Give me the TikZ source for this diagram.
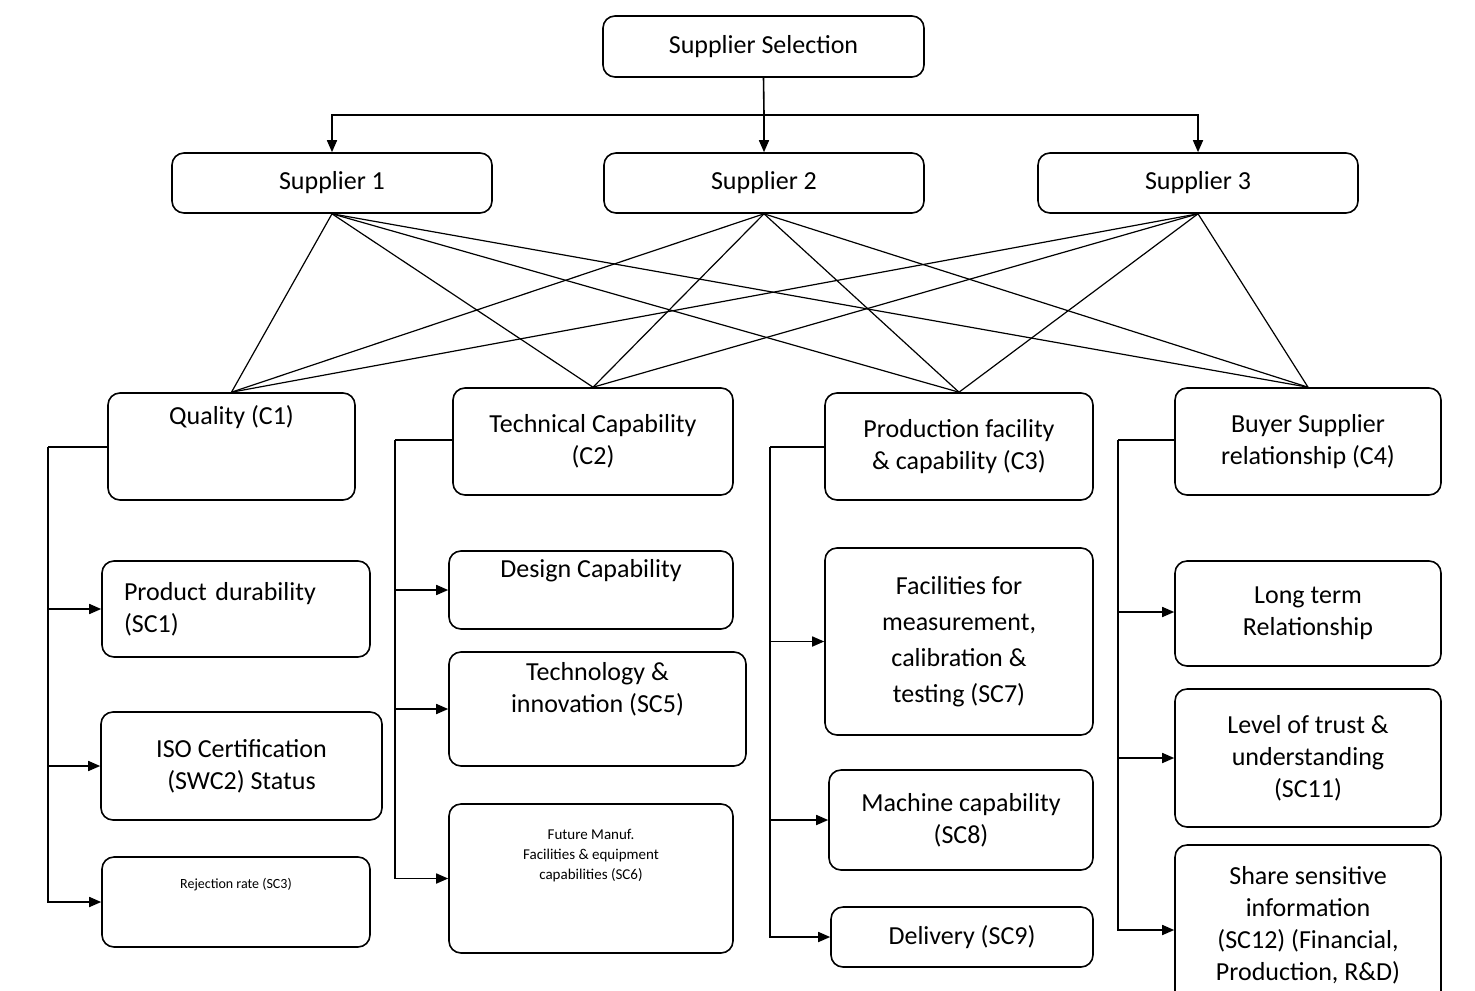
\documentclass[tikz,border=0pt]{standalone}
\usepackage{fontspec}
\setmainfont{Carlito}
\usetikzlibrary{arrows.meta}
\newcommand\bx[6][]{\node[box,#1,minimum width={(#4-#2)*0.5pt},minimum height={(#5-#3)*0.5pt}] (#6) at ({(#2+#4)/2},{(#3+#5)/2})}
\begin{document}
\begin{tikzpicture}[x=0.5pt,y=-0.5pt,
  box/.style={draw,thick,rounded corners=6pt,inner sep=0pt,align=center,font=\fontsize{13}{16}\selectfont},
  arr/.style={thick,-{Triangle[length=6pt,width=5pt]}},
  ln/.style={semithick}]
\useasboundingbox (0,0) rectangle (1475,990);
\bx{603}{16}{924}{77}{ss} {Supplier Selection};
\bx{172}{153}{492}{213}{s1} {Supplier 1};
\bx{604}{153}{924}{213}{s2} {Supplier 2};
\bx{1038}{153}{1358}{213}{s3} {Supplier 3};
\coordinate (bus) at (764,115);
\draw[thick] (ss.south) -- (bus);
\draw[arr] (bus) -| (s1.north);
\draw[arr] (bus) -- (s2.north);
\draw[arr] (bus) -| (s3.north);
\bx{108}{393}{355}{500}{c1} {Quality (C1)\\[16pt]};
\bx{453}{388}{733}{495}{c2} {Technical Capability\\(C2)};
\bx{825}{393}{1093}{500}{c3} {Production facility\\\& capability (C3)};
\bx{1175}{388}{1441}{495}{c4} {Buyer Supplier\\relationship (C4)};
\foreach \s in {s1,s2,s3}\foreach \c in {c1,c2,c3,c4}\draw[ln] (\s.south) -- (\c.north);
% C1
\bx[align=left,text width=112pt]{102}{561}{370}{657}{sc1} {Product durability\\(SC1)};
\bx{101}{712}{382}{820}{sc2} {ISO Certification\\(SWC2) Status};
\bx[font=\fontsize{7}{9}\selectfont]{102}{857}{370}{947}{sc3} {Rejection rate (SC3)\\[10pt]};
\coordinate (b1) at (48,447);
\draw[thick] (c1.west |- b1) -- (b1);
\foreach \n in {sc1,sc2,sc3}\draw[arr] (b1) |- (\n.west);
% C2
\bx{449}{551}{733}{629}{sc4} {Design Capability\\[6pt]};
\bx{449}{652}{746}{766}{sc5} {Technology \&\\innovation (SC5)\\[6pt]};
\bx[font=\fontsize{7.5}{10}\selectfont]{449}{804}{733}{953}{sc6} {Future Manuf.\\Facilities \& equipment\\capabilities (SC6)\\[14pt]};
\coordinate (b2) at (395,440);
\draw[thick] (c2.west |- b2) -- (b2);
\foreach \n in {sc4,sc5,sc6}\draw[arr] (b2) |- (\n.west);
% C3
\bx[font=\fontsize{13}{18}\selectfont]{825}{548}{1093}{735}{sc7} {Facilities for\\measurement,\\calibration \&\\testing (SC7)};
\bx{829}{770}{1093}{870}{sc8} {Machine capability\\(SC8)};
\bx{831}{907}{1093}{967}{sc9} {Delivery (SC9)};
\coordinate (b3) at (770,447);
\draw[thick] (c3.west |- b3) -- (b3);
\foreach \n in {sc7,sc8,sc9}\draw[arr] (b3) |- (\n.west);
% C4
\bx{1175}{561}{1441}{666}{sc10} {Long term\\Relationship};
\bx{1175}{689}{1441}{827}{sc11} {Level of trust \&\\understanding\\(SC11)};
\bx{1175}{845}{1441}{1005}{sc12} {Share sensitive\\information\\(SC12) (Financial,\\Production, R\&D)};
\coordinate (b4) at (1118,440);
\draw[thick] (c4.west |- b4) -- (b4);
\foreach \n/\y in {sc10/612,sc11/758,sc12/930}\draw[arr] (b4) |- (\n.west |- 0,\y);
\end{tikzpicture}
\end{document}
